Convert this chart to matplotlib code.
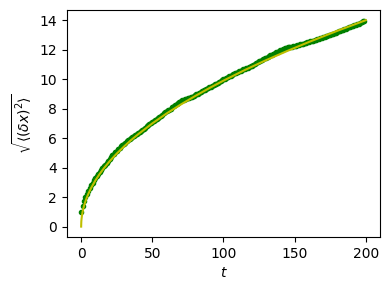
import matplotlib
matplotlib.use("Agg")
import matplotlib.pyplot as plt

# measured points (t, rms displacement), t = 0..199
t_data = list(range(0, 200))
r_data = [0.99, 1.40, 1.71, 1.98, 2.22, 2.42, 2.62, 2.80, 2.97, 3.13,
          3.29, 3.43, 3.57, 3.70, 3.83, 3.96, 4.08, 4.20, 4.32, 4.48,
          4.58, 4.74, 4.85, 4.95, 5.05, 5.15, 5.25, 5.34, 5.44, 5.52,
          5.61, 5.70, 5.78, 5.85, 5.94, 6.00, 6.07, 6.14, 6.21, 6.28,
          6.34, 6.42, 6.49, 6.57, 6.64, 6.71, 6.79, 6.86, 6.93, 7.00,
          7.07, 7.14, 7.21, 7.27, 7.35, 7.44, 7.52, 7.60, 7.68, 7.76,
          7.83, 7.89, 7.94, 8.01, 8.08, 8.15, 8.23, 8.29, 8.38, 8.45,
          8.53, 8.57, 8.60, 8.64, 8.67, 8.70, 8.73, 8.76, 8.80, 8.85,
          8.91, 8.96, 9.02, 9.07, 9.13, 9.18, 9.24, 9.29, 9.34, 9.39,
          9.44, 9.50, 9.54, 9.60, 9.65, 9.70, 9.75, 9.80, 9.85, 9.92,
          9.98, 10.04, 10.10, 10.15, 10.20, 10.24, 10.29, 10.34, 10.39, 10.43,
          10.48, 10.53, 10.57, 10.62, 10.66, 10.70, 10.74, 10.78, 10.83, 10.87,
          10.92, 10.97, 11.03, 11.08, 11.15, 11.20, 11.26, 11.31, 11.37, 11.41,
          11.46, 11.51, 11.56, 11.61, 11.65, 11.72, 11.76, 11.81, 11.85, 11.90,
          11.95, 12.00, 12.04, 12.08, 12.12, 12.15, 12.18, 12.19, 12.21, 12.22,
          12.25, 12.27, 12.30, 12.33, 12.36, 12.38, 12.40, 12.44, 12.48, 12.51,
          12.54, 12.57, 12.59, 12.62, 12.64, 12.67, 12.69, 12.73, 12.77, 12.81,
          12.85, 12.87, 12.90, 12.94, 12.98, 13.01, 13.05, 13.09, 13.13, 13.16,
          13.20, 13.25, 13.29, 13.33, 13.36, 13.40, 13.43, 13.47, 13.51, 13.55,
          13.58, 13.62, 13.65, 13.69, 13.72, 13.77, 13.82, 13.87, 13.92, 13.95]

# fitted curve samples
t_fit = [0, 0.1, 0.25, 0.5, 1, 1.5, 2, 3, 4, 5, 7, 10, 13, 16, 20, 25, 30, 35, 40,
         50, 60, 70, 80, 90, 100, 115, 130, 145, 160, 180, 200]
r_fit = [0.0, 0.31, 0.50, 0.70, 0.99, 1.21, 1.40, 1.71, 1.98, 2.21, 2.62, 3.13,
         3.57, 3.96, 4.43, 4.95, 5.42, 5.86, 6.26, 7.00, 7.67, 8.28, 8.85, 9.39,
         9.90, 10.62, 11.29, 11.92, 12.52, 13.28, 14.00]

fig = plt.figure(figsize=(3.89, 2.90), dpi=100)
ax = fig.add_axes([0.172, 0.183, 0.805, 0.783])
ax.plot(t_data, r_data, 'g.')
ax.plot(t_fit, r_fit, 'y', lw=1.5)
ax.set_xlabel(r'$t$')
ax.set_ylabel(r'$\sqrt{\langle(\delta x)^2\rangle}$')
ax.set_yticks([0, 2, 4, 6, 8, 10, 12, 14])
ax.set_xticks([0, 50, 100, 150, 200])
fig.savefig("out.png", dpi=100)
